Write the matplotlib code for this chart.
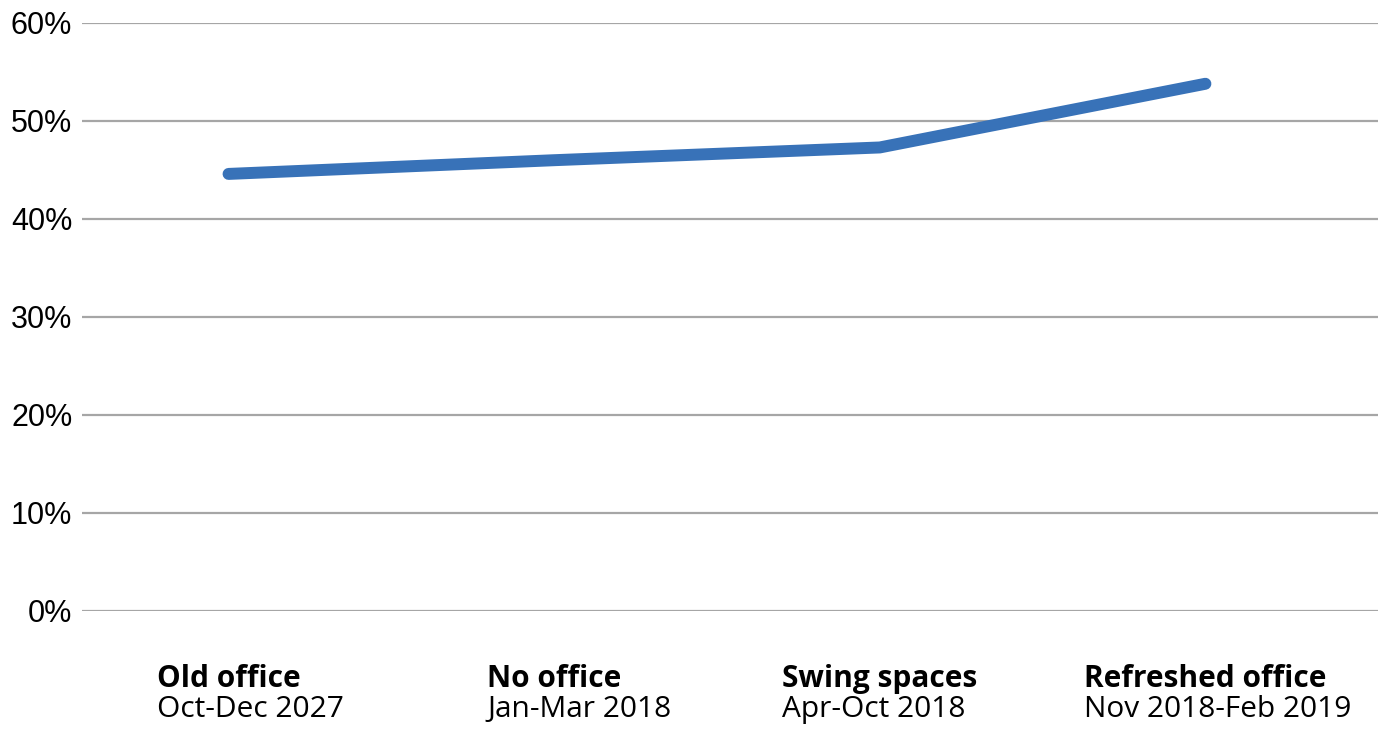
import matplotlib
matplotlib.use("Agg")
import matplotlib.pyplot as plt
from matplotlib.ticker import PercentFormatter
import matplotlib.transforms as mtransforms

# Share of responses per office phase
phases = ["Old office", "No office", "Swing spaces", "Refreshed office"]
periods = ["Oct-Dec 2027", "Jan-Mar 2018", "Apr-Oct 2018", "Nov 2018-Feb 2019"]
share = [0.446, 0.460, 0.473, 0.538]
y_ticks = [0.0, 0.1, 0.2, 0.3, 0.4, 0.5, 0.6]

fig = plt.figure(figsize=(13.83, 7.30), dpi=100)
ax = fig.add_axes([82 / 1383, 119 / 730, (1378 - 82) / 1383, (611 - 23) / 730])

x = list(range(len(phases)))
ax.plot(x, share, color="#3872B8", linewidth=8.6, solid_capstyle="round",
        solid_joinstyle="round", zorder=3, clip_on=False)

ax.set_xlim(-0.45, 3.53)
ax.set_ylim(0, 0.6)
ax.set_yticks(y_ticks)
ax.yaxis.set_major_formatter(PercentFormatter(1.0, decimals=0))
ax.set_xticks([])
ax.grid(axis="y", color="#A6A6A6", linewidth=1.6)
ax.set_axisbelow(True)
for s in ax.spines.values():
    s.set_visible(False)
ax.tick_params(axis="y", length=0, pad=7, labelsize=22, labelcolor="#000000")
for lbl in ax.get_yticklabels():
    lbl.set_family("Liberation Sans")

# Two-line category labels: bold name centred on the point,
# period written underneath, left-aligned with the name
trans = mtransforms.blended_transform_factory(ax.transData, fig.transFigure)
fig.canvas.draw()
renderer = fig.canvas.get_renderer()
for i, (name, period) in enumerate(zip(phases, periods)):
    t = fig.text(0, 0, name, fontsize=21.5, fontweight="bold", family="Open Sans",
                 ha="center", va="baseline", transform=trans)
    t.set_position((i, 1 - 687 / 730))
    bb = t.get_window_extent(renderer)
    fig.text(bb.x0 / fig.bbox.width, 1 - 717 / 730, period, fontsize=21.5,
             family="Open Sans", ha="left", va="baseline",
             transform=fig.transFigure)

fig.savefig("out.png", dpi=100, facecolor="white")
